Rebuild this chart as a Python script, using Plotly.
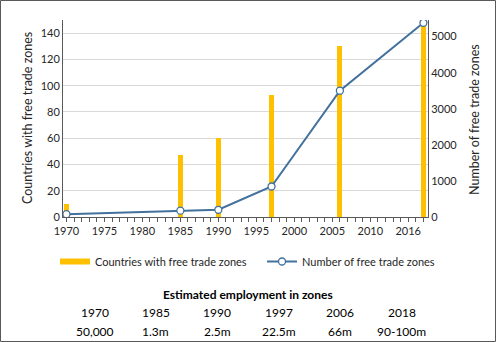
import plotly.graph_objects as go

# ---- data ----
years_pos = [1970, 1985, 1990, 1997, 2006, 2017]   # plotted positions
countries = [10, 47, 60, 93, 130, 147]
zones = [79, 176, 200, 845, 3500, 5383]

tick_vals = [1970, 1975, 1980, 1985, 1990, 1995, 2000, 2005, 2010, 2015]
tick_text = ["1970", "1975", "1980", "1985", "1990", "1995", "2000", "2005", "2010", "2016"]

emp_years = ["1970", "1985", "1990", "1997", "2006", "2018"]
emp_values = ["50,000", "1.3m", "2.5m", "22.5m", "66m", "90-100m"]

W, H = 496, 342
ML, MR, MT, MB = 63, 68, 20, 125
PW, PH = W - ML - MR, H - MT - MB

FONT = "Lato"
TXT = "#262626"
AX = "#595959"
YELLOW = "#FFC000"
BLUE = "#41719C"

fig = go.Figure()
fig.add_trace(go.Bar(x=years_pos, y=countries, width=0.68, marker_color=YELLOW,
                     marker_line_width=0, showlegend=False, yaxis="y"))
# legend proxy for the bars (wide flat patch)
fig.add_trace(go.Scatter(x=[None], y=[None], mode="lines",
                         line=dict(color=YELLOW, width=6),
                         name="Countries with free trade zones", legend="legend"))
fig.add_trace(go.Scatter(x=years_pos, y=zones, mode="lines+markers", yaxis="y2",
                         name="Number of free trade zones", legend="legend2",
                         line=dict(color=BLUE, width=2),
                         marker=dict(size=7, color="white", line=dict(color=BLUE, width=1.3))))

leg_common = dict(xref="container", yref="container", xanchor="left", yanchor="top",
                  font=dict(size=11, color=TXT), itemwidth=30, bgcolor="rgba(0,0,0,0)")

fig.update_layout(
    width=W, height=H,
    margin=dict(l=ML, r=MR, t=MT, b=MB, autoexpand=False),
    paper_bgcolor="white", plot_bgcolor="white",
    font=dict(family=FONT, size=11, color=TXT),
    bargap=0,
    xaxis=dict(range=[1969.55, 2017.6], tickmode="array", tickvals=tick_vals, ticktext=tick_text,
               showline=True, linecolor=AX, linewidth=1, ticks="outside", ticklen=4,
               tickcolor=AX, showgrid=False, zeroline=False,
               minor=dict(dtick=1, ticks="outside", ticklen=4, tickcolor=AX, showgrid=False),
               tickfont=dict(size=11, color=TXT)),
    yaxis=dict(range=[0, 150], tickvals=list(range(0, 141, 20)), showline=True,
               linecolor=AX, linewidth=1, gridcolor="#D9D9D9", gridwidth=1,
               zeroline=False, ticks="", tickfont=dict(size=11, color=TXT)),
    yaxis2=dict(range=[0, 5460], tickvals=list(range(0, 5001, 1000)), overlaying="y",
                side="right", showline=True, linecolor=AX, linewidth=1, showgrid=False,
                zeroline=False, ticks="", tickfont=dict(size=11, color=TXT)),
    legend=dict(x=55 / W, y=1 - 247 / H, **leg_common),
    legend2=dict(x=262 / W, y=1 - 247 / H, **leg_common),
)

def px_x(px):
    return (px - ML) / PW

def px_y(py):
    return (H - MB - py) / PH

ann = []
ann.append(dict(text="Countries with free trade zones", x=px_x(27), y=px_y(118),
                xref="paper", yref="paper", textangle=-90, showarrow=False,
                font=dict(size=12.5, color=TXT), xanchor="center", yanchor="middle"))
ann.append(dict(text="Number of free trade zones", x=px_x(474), y=px_y(120),
                xref="paper", yref="paper", textangle=-90, showarrow=False,
                font=dict(size=12.5, color=TXT), xanchor="center", yanchor="middle"))
ann.append(dict(text="<b>Estimated employment in zones</b>", x=px_x(248), y=px_y(294),
                xref="paper", yref="paper", showarrow=False,
                font=dict(size=12, color="#000000"), xanchor="center", yanchor="middle"))
col_x = [94.7, 155.7, 217, 278.7, 340, 401.7]
for cx, yr, val in zip(col_x, emp_years, emp_values):
    ann.append(dict(text=yr, x=px_x(cx), y=px_y(312.5), xref="paper", yref="paper",
                    showarrow=False, font=dict(size=12, color="#000000"),
                    xanchor="center", yanchor="middle"))
    ann.append(dict(text=val, x=px_x(cx), y=px_y(331.5), xref="paper", yref="paper",
                    showarrow=False, font=dict(size=12, color="#000000"),
                    xanchor="center", yanchor="middle"))
fig.update_layout(annotations=ann)

# frame around the whole figure
fig.add_shape(type="rect", xref="paper", yref="paper",
              x0=px_x(0.5), x1=px_x(W - 0.5), y0=px_y(H - 0.5), y1=px_y(0.5),
              line=dict(color="#595959", width=1), fillcolor="rgba(0,0,0,0)", layer="above")

fig.write_html("out.html")
